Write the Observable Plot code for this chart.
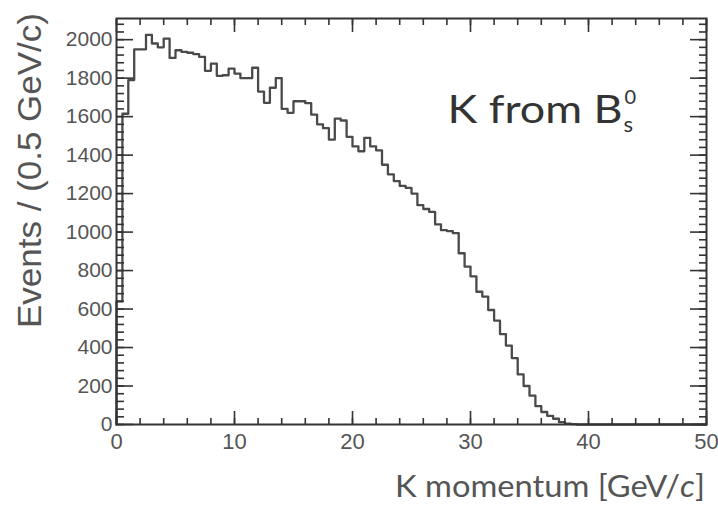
<!DOCTYPE html>
<html>
<head>
<meta charset="utf-8">
<script src="https://cdn.jsdelivr.net/npm/d3@7"></script>
<script src="https://cdn.jsdelivr.net/npm/@observablehq/plot@0.6"></script>
<style>
  body { margin: 0; background: #fff; }
  #chart { width: 718px; height: 513px; }
</style>
</head>
<body>
<div id="chart"></div>
<script>
// ---- data (K momentum histogram, 0.5 GeV/c bins from 0 to 50) ----
const binWidth = 0.5;
const counts = [
  640, 1615, 1790, 1950, 1950, 2025, 1980, 1960, 2005, 1905,
  1945, 1937, 1932, 1925, 1911, 1838, 1875, 1812, 1815, 1849,
  1823, 1800, 1800, 1854, 1730, 1672, 1750, 1800, 1640, 1620,
  1680, 1680, 1670, 1610, 1560, 1540, 1480, 1590, 1580, 1495,
  1445, 1420, 1490, 1445, 1425, 1350, 1300, 1265, 1240, 1230,
  1200, 1140, 1120, 1105, 1040, 1010, 1005, 995, 890, 820,
  770, 690, 665, 595, 540, 470, 410, 345, 260, 200,
  150, 95, 65, 45, 30, 12, 4, 2, 0, 0,
  0, 0, 0, 0, 0, 0, 0, 0, 0, 0,
  0, 0, 0, 0, 0, 0, 0, 0, 0, 0
];
const xDomain = [0, 50];
const yDomain = [0, 2110];
const xMajorTicks = [0, 10, 20, 30, 40, 50];
const xMinorTicks = d3.range(0, 50.001, 2);
const yMajorTicks = [0, 200, 400, 600, 800, 1000, 1200, 1400, 1600, 1800, 2000];
const yMinorTicks = d3.range(0, 2110, 40);
const xTitleMain = "K momentum [GeV/";
const xTitleItalic = "c";
const xTitleEnd = "]";
const yTitle = "Events / (0.5 GeV/c)";
const annotationMain = "K from B";
const annotationSup = "0";
const annotationSub = "s";

// step outline points: start at zero, then left edge of each bin, then final right edge
const steps = [{x: 0, y: 0}]
  .concat(counts.map((c, i) => ({x: i * binWidth, y: c})))
  .concat([{x: counts.length * binWidth, y: counts[counts.length - 1]}]);

const axisColor = "#333";
const textColor = "#555";
const plainFormat = d => String(d);

const plot = Plot.plot({
  width: 718,
  height: 513,
  marginLeft: 116,
  marginRight: 12,
  marginTop: 18,
  marginBottom: 89,
  style: {fontFamily: "'Liberation Sans', Arial, sans-serif", background: "#fff", color: axisColor},
  x: {domain: xDomain},
  y: {domain: yDomain},
  marks: [
    Plot.line(steps, {x: "x", y: "y", curve: "step-after", stroke: "#4a4a4a", strokeWidth: 2.3}),
    // inward ticks, all four sides
    Plot.axisX({anchor: "bottom", ticks: xMinorTicks, tickSize: -6, fill: "none", label: null, strokeWidth: 1.6}),
    Plot.axisX({anchor: "bottom", ticks: xMajorTicks, tickSize: -13, fill: "none", label: null, strokeWidth: 1.6}),
    Plot.axisX({anchor: "top", ticks: xMinorTicks, tickSize: -6, fill: "none", label: null, strokeWidth: 1.6}),
    Plot.axisX({anchor: "top", ticks: xMajorTicks, tickSize: -13, fill: "none", label: null, strokeWidth: 1.6}),
    Plot.axisY({anchor: "left", ticks: yMinorTicks, tickSize: -8, fill: "none", label: null, strokeWidth: 1.6}),
    Plot.axisY({anchor: "left", ticks: yMajorTicks, tickSize: -17, fill: "none", label: null, strokeWidth: 1.6}),
    Plot.axisY({anchor: "right", ticks: yMinorTicks, tickSize: -8, fill: "none", label: null, strokeWidth: 1.6}),
    Plot.axisY({anchor: "right", ticks: yMajorTicks, tickSize: -17, fill: "none", label: null, strokeWidth: 1.6}),
    // tick labels
    Plot.axisX({anchor: "bottom", ticks: xMajorTicks, tickFormat: plainFormat, tickSize: 0, tickPadding: 9, fontSize: 22, fill: textColor, label: null}),
    Plot.axisY({anchor: "left", ticks: yMajorTicks, tickFormat: plainFormat, tickSize: 0, tickPadding: 4, fontSize: 21, fill: textColor, label: null}),
    Plot.frame({stroke: axisColor, strokeWidth: 2})
  ]
});

document.getElementById("chart").appendChild(plot);

const svg = d3.select(plot);
const sx = plot.scale("x");
const sy = plot.scale("y");

// y-axis title (rotated, aligned to top of axis)
svg.append("text")
  .attr("transform", "translate(41,13) rotate(-90)")
  .attr("text-anchor", "end")
  .attr("font-family", "'Liberation Sans', Arial, sans-serif")
  .attr("font-size", 33)
  .attr("fill", textColor)
  .attr("textLength", 315)
  .attr("lengthAdjust", "spacingAndGlyphs")
  .text(yTitle);

// x-axis title, right aligned at the frame edge
const xt = svg.append("text")
  .attr("x", 395)
  .attr("y", 497)
  .attr("text-anchor", "start")
  .attr("font-family", "Lato, 'Open Sans', sans-serif")
  .attr("font-size", 30)
  .attr("fill", textColor)
  .attr("textLength", 310)
  .attr("lengthAdjust", "spacingAndGlyphs");
xt.append("tspan").text(xTitleMain);
xt.append("tspan").attr("font-style", "italic").text(xTitleItalic);
xt.append("tspan").text(xTitleEnd);

// annotation "K from B_s^0"
const ax = sx.apply(28.1);
const ay = sy.apply(1565);
svg.append("text")
  .attr("x", ax).attr("y", ay)
  .attr("text-anchor", "start")
  .attr("font-family", "Lato, 'Open Sans', sans-serif")
  .attr("font-size", 38)
  .attr("fill", "#333")
  .attr("textLength", 175)
  .attr("lengthAdjust", "spacingAndGlyphs")
  .text(annotationMain);
svg.append("text")
  .attr("x", ax + 177).attr("y", ay - 19)
  .attr("text-anchor", "start")
  .attr("font-family", "Lato, 'Open Sans', sans-serif")
  .attr("font-size", 20)
  .attr("fill", "#333")
  .text(annotationSup);
svg.append("text")
  .attr("x", ax + 176).attr("y", ay + 9)
  .attr("text-anchor", "start")
  .attr("font-family", "Lato, 'Open Sans', sans-serif")
  .attr("font-size", 22)
  .attr("fill", "#333")
  .text(annotationSub);
</script>
</body>
</html>
